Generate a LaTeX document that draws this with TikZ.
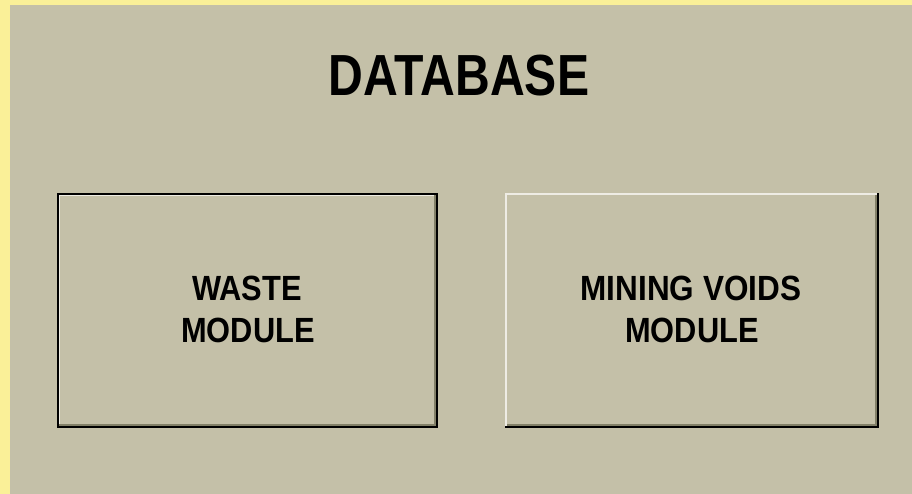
\documentclass[tikz,border=0pt]{standalone}
\usepackage{fontspec}
\setmainfont{Liberation Sans}
\definecolor{frameyellow}{RGB}{250,240,152}
\definecolor{panelgray}{RGB}{196,192,168}
\definecolor{bevellight}{RGB}{238,236,228}
\definecolor{beveldark}{RGB}{130,128,104}
\begin{document}
\begin{tikzpicture}[x=1pt,y=-1pt,
  btn/.style={draw=none,inner sep=0pt,minimum height=235pt},
  lbl/.style={inner sep=0pt,anchor=base,font=\bfseries\fontsize{35}{42}\selectfont},
  title/.style={inner sep=0pt,anchor=base,font=\bfseries\fontsize{58}{64}\selectfont},
  edge/.style={line width=2pt,line cap=rect}]
% window frame and panel
\fill[frameyellow] (0,0) rectangle (912,494);
\fill[panelgray] (10,5) rectangle (912,494);
\useasboundingbox (0,0) rectangle (912,494);

% heading
\node[title] (db) at (459,96) {\scalebox{0.83}[1]{DATABASE}};

% the two module buttons
\node[btn,minimum width=381pt] (waste) at (247.5,310.5) {};
\node[btn,minimum width=374pt] (voids) at (692,310.5) {};

% default button: black frame with raised bevel inside
\draw[black,edge] ([shift={(1,1)}]waste.north west) rectangle ([shift={(-1,-1)}]waste.south east);
\draw[bevellight,line width=1pt] ([shift={(-4,2.5)}]waste.north east) -- ([shift={(2.5,2.5)}]waste.north west) -- ([shift={(2.5,-4)}]waste.south west);
\draw[beveldark,edge] ([shift={(-3,3)}]waste.north east) -- ([shift={(-3,-3)}]waste.south east) -- ([shift={(3,-3)}]waste.south west);

% plain raised button
\draw[bevellight,edge] ([shift={(-2,1)}]voids.north east) -- ([shift={(1,1)}]voids.north west) -- ([shift={(1,-2)}]voids.south west);
\draw[black,edge] ([shift={(-1,1)}]voids.north east) -- ([shift={(-1,-1)}]voids.south east) -- ([shift={(1,-1)}]voids.south west);
\draw[beveldark,edge] ([shift={(-3,3)}]voids.north east) -- ([shift={(-3,-3)}]voids.south east) -- ([shift={(3,-3)}]voids.south west);

% button captions
\node[lbl] (waste1) at (247,300) {\scalebox{0.88}[1]{WASTE}};
\node[lbl] (waste2) at (248,342) {\scalebox{0.88}[1]{MODULE}};
\node[lbl] (voids1) at (691,300) {\scalebox{0.9}[1]{MINING VOIDS}};
\node[lbl] (voids2) at (692,342) {\scalebox{0.88}[1]{MODULE}};
\end{tikzpicture}
\end{document}
